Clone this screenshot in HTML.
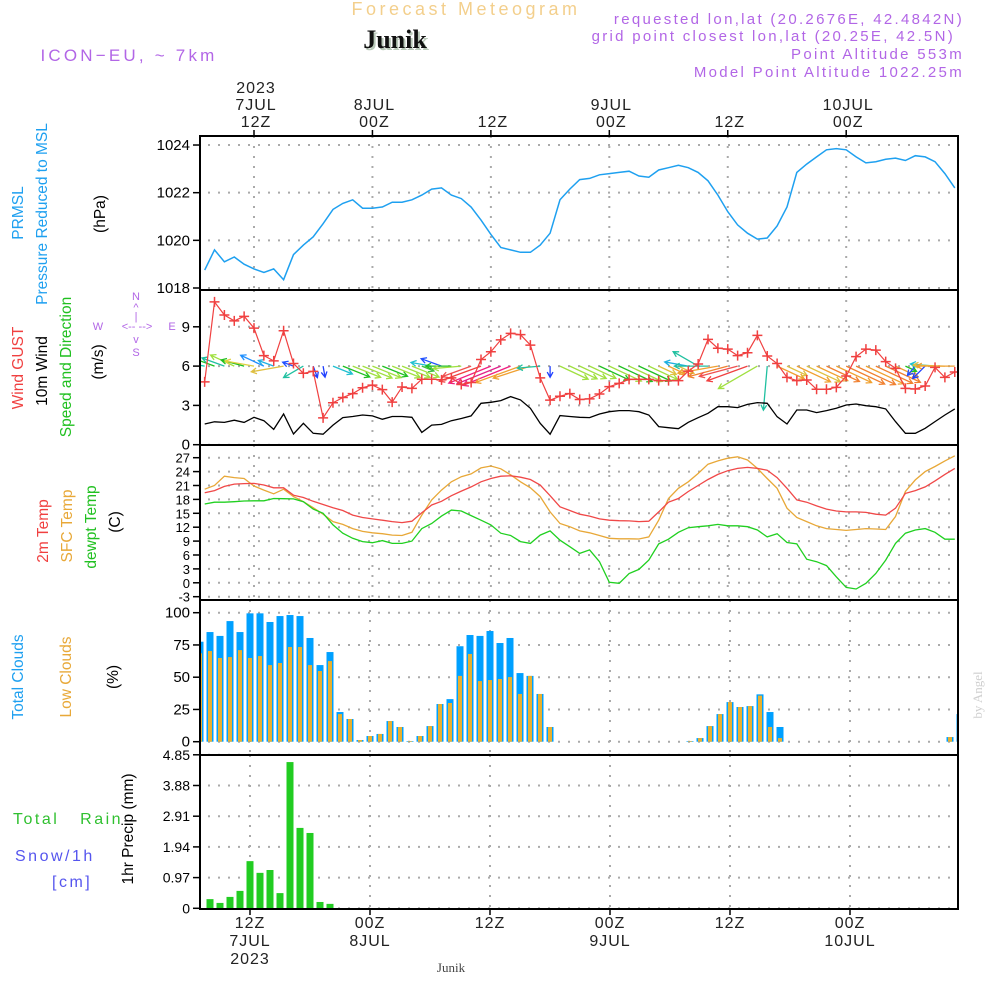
<!DOCTYPE html>
<html><head><meta charset="utf-8">
<style>
html,body{margin:0;padding:0;background:#fff;}
svg{display:block;font-family:"Liberation Sans",sans-serif;}
</style></head>
<body>
<svg id="chart" width="1000" height="1000" viewBox="0 0 1000 1000" xmlns="http://www.w3.org/2000/svg">
  <text x="466" y="15" text-anchor="middle" font-size="18" fill="#f3cf8c" letter-spacing="3.5">Forecast Meteogram</text>
  <text x="397" y="50" text-anchor="middle" font-size="26" font-weight="bold" font-family="Liberation Serif,serif" fill="#b8c8b8">Junik</text>
  <text x="395" y="48" text-anchor="middle" font-size="26" font-weight="bold" font-family="Liberation Serif,serif" fill="#111">Junik</text>
  <text x="129" y="61" text-anchor="middle" font-size="17" fill="#b266e6" letter-spacing="3.2">ICON−EU, ~ 7km</text>
  <g font-size="15" fill="#b266e6" text-anchor="end" letter-spacing="2.3">
    <text x="964" y="24">requested lon,lat (20.2676E, 42.4842N)</text>
    <text x="955" y="41">grid point closest lon,lat (20.25E, 42.5N)</text>
    <text x="964" y="59">Point Altitude 553m</text>
    <text x="964" y="77">Model Point Altitude 1022.25m</text>
  </g>
  <g font-size="15.5" text-anchor="middle">
    <text transform="translate(23,213) rotate(-90)" fill="#1ea0f0">PRMSL</text>
    <text transform="translate(47,214) rotate(-90)" fill="#1ea0f0">Pressure Reduced to MSL</text>
    <text transform="translate(105,214) rotate(-90)" fill="#000">(hPa)</text>
    <text transform="translate(23,368) rotate(-90)" fill="#f04040">Wind GUST</text>
    <text transform="translate(47,371) rotate(-90)" fill="#000">10m Wind</text>
    <text transform="translate(71,367) rotate(-90)" fill="#20c020">Speed and Direction</text>
    <text transform="translate(103,362) rotate(-90)" fill="#000">(m/s)</text>
    <text transform="translate(48,531) rotate(-90)" fill="#f04040">2m Temp</text>
    <text transform="translate(72,526) rotate(-90)" fill="#e8a838">SFC Temp</text>
    <text transform="translate(96,527) rotate(-90)" fill="#20c020">dewpt Temp</text>
    <text transform="translate(120,522) rotate(-90)" fill="#000">(C)</text>
    <text transform="translate(23,677) rotate(-90)" fill="#1ea0f0">Total Clouds</text>
    <text transform="translate(71,677) rotate(-90)" fill="#e8a838">Low Clouds</text>
    <text transform="translate(118,677) rotate(-90)" fill="#000">(%)</text>
    <text transform="translate(133,829) rotate(-90)" fill="#000">1hr Precip (mm)</text>
  </g>
  <text x="13" y="824" font-size="16" fill="#30c030" letter-spacing="2.5" xml:space="preserve">Total   Rain</text>
  <text x="15" y="861" font-size="16" fill="#5555ee" letter-spacing="2.5">Snow/1h</text>
  <text x="52" y="887" font-size="16" fill="#5555ee" letter-spacing="2.5">[cm]</text>
  <g font-size="11" fill="#b266e6" text-anchor="middle">
    <text x="136" y="300">N</text><text x="136" y="311">^</text><text x="136" y="320">|</text>
    <text x="98" y="330">W</text><text x="137" y="330">&lt;-- --&gt;</text><text x="172" y="330">E</text>
    <text x="136" y="343">v</text><text x="136" y="356">S</text>
  </g>
  <text transform="translate(982,695) rotate(-90)" font-size="13" fill="#d0d0d0" font-family="Liberation Serif,serif" text-anchor="middle">by Angel</text>
  <text x="451" y="972" font-size="13" font-family="Liberation Serif,serif" fill="#444" text-anchor="middle">Junik</text>
  <g id="plot"></g>
</svg>
<script>
// ===== data (hourly, from h=-5 to h=71 relative to 12Z 7JUL) =====
const hourStart = -5;
const pressure = [1018.75,1019.6,1019.1,1019.3,1019.0,1018.8,1018.65,1018.8,1018.35,1019.4,1019.8,1020.15,1020.7,1021.3,1021.55,1021.7,1021.35,1021.35,1021.4,1021.6,1021.6,1021.7,1021.9,1022.15,1022.2,1021.9,1021.75,1021.4,1020.85,1020.25,1019.7,1019.6,1019.5,1019.5,1019.8,1020.3,1021.7,1022.15,1022.55,1022.6,1022.75,1022.8,
1022.85,1022.9,1022.7,1022.65,1022.95,1023.05,1023.15,1023.05,1022.85,1022.5,1021.9,1021.2,1020.65,1020.3,1020.05,1020.1,1020.6,1021.4,1022.85,1023.2,1023.5,1023.8,1023.85,1023.8,1023.5,1023.25,1023.3,1023.4,1023.45,1023.35,1023.55,1023.5,1023.3,1022.8,1022.2];
const gust = [4.8,10.9,9.9,9.45,9.8,8.9,6.8,6.4,8.7,6.2,5.45,5.6,2.05,3.2,3.6,3.9,4.35,4.55,4.2,3.25,4.4,4.3,5.0,5.0,4.95,5.1,4.6,4.75,6.5,7.1,8.0,8.5,8.4,7.6,5.1,3.4,3.7,3.9,3.45,
3.5,3.87,4.43,4.68,4.99,4.99,4.99,4.89,4.89,4.89,5.62,6.16,8.04,7.36,7.3,6.8,7.02,8.35,6.77,6.2,5.14,4.89,4.94,4.23,4.23,4.38,5.24,6.72,7.3,7.22,6.34,5.83,4.3,4.25,4.48,5.9,5.14,5.55];
const windSpd = [1.58,1.75,1.7,1.87,1.7,2.09,1.83,1.17,2.34,0.82,1.63,0.87,0.8,1.5,2.07,2.15,2.27,2.2,1.94,2.15,2.15,2.09,0.94,1.5,1.55,1.83,2.0,2.2,3.16,3.24,3.37,3.67,3.42,2.78,1.63,0.8,2.22,2.15,2.09,2.07,
2.34,2.52,2.6,2.6,2.52,2.27,1.38,1.3,1.22,1.71,2.06,2.4,2.9,2.9,2.83,3.08,3.21,3.16,2.14,1.58,2.65,2.65,2.45,2.6,2.78,3.03,3.11,2.98,2.9,2.73,1.76,0.87,0.87,1.25,1.76,2.27,2.73];
const windDir = [100,110,110,115,105,100,115,110,80,110,60,340,350,
292,292,292,292,292,292,292,292,292,292,
100,110,90,85,70,70,68,68,68,70,72,85,0,
295,295,295,295,295,295,295,295,295,295,295,295,295,
100,120,90,80,75,75,70,60,5,
295,295,295,295,295,295,295,295,295,295,295,295,295,295,
40,45,95,92,90];
const arrowColor = ['#10d0b0','#20c020','#20c0a0','#a0e040','#20c020','#e0d040','#2090ff','#20b0e0','#e0c040','#2050ff','#20c0a0','#2040ff','#2040ff',
'#20c0d0','#20c020','#a0e040','#a0e040','#a0e040','#20c020','#a0e040','#a0e040','#a0e040','#40c040',
'#20c0d0','#2050ff','#20c020','#a0e040','#f05050','#f04040','#f02080','#e0208a','#f02080','#f0a030','#f0a030','#20c0a0','#2040ff',
'#a0e040','#a0e040','#a0e040','#a0e040','#20c020','#a0e040','#20c020','#a0e040','#20c020','#a0e040','#e0c040','#f0a030','#e0c040',
'#20b0e0','#20c0a0','#20c0a0','#f0a030','#f08030','#f05050','#f04040','#a0e040','#20c0a0',
'#f0a030','#e0c040','#f0a030','#e0c040','#f0a030','#f08030','#f0a030','#f08030','#f08030','#f0a030','#f08030','#f08030','#f0a030','#20c020',
'#2050ff','#2040ff','#20c0d0','#e0c040','#f0a030'];
const temp2m = [19.45,19.9,20.8,21.3,21.4,21.45,21.1,20.5,20.5,18.9,18.4,17.6,16.9,16.2,15.6,14.6,14.1,13.8,13.5,13.2,13.0,13.3,15.1,16.8,17.6,18.8,19.8,20.7,21.8,22.5,23.0,23.1,22.8,22.3,21.1,18.8,16.4,15.6,14.8,
14.4,13.8,13.5,13.4,13.35,13.2,13.3,15.3,17.4,18.2,19.7,21.0,22.3,23.4,24.2,24.7,24.9,24.7,24.3,22.7,20.4,17.9,17.4,16.6,15.9,15.5,15.3,15.3,15.2,14.8,14.6,16.1,19.3,19.9,20.7,22.0,23.4,24.7];
const tempSfc = [20.2,21.0,23.0,22.7,22.5,20.9,20.0,19.2,20.2,18.6,17.5,16.2,14.8,13.2,12.6,11.7,11.1,10.8,10.6,10.3,10.2,10.9,14.6,17.9,20.0,21.8,22.9,23.5,24.8,25.2,24.6,23.3,21.8,20.5,18.6,15.3,12.8,12.1,11.2,
10.8,10.2,9.6,9.5,9.5,9.45,9.9,13.5,18.2,20.4,21.8,23.6,25.6,26.3,26.9,27.2,26.5,24.7,22.5,20.4,16.1,14.1,13.2,12.3,11.7,11.5,11.3,11.5,11.7,11.6,11.5,14.3,19.7,22.2,24.0,25.1,26.3,27.4];
const dewpt = [17.0,17.4,17.4,17.5,17.65,17.7,17.7,18.2,18.15,18.1,17.5,15.9,15.0,12.5,10.7,9.6,8.9,8.65,9.1,8.5,8.5,9.0,11.7,12.8,14.4,15.7,15.5,14.5,13.5,12.5,10.7,10.2,8.9,8.5,10.3,11.2,9.2,7.8,6.35,
7.1,4.55,0.1,-0.1,2.0,2.9,4.9,8.4,9.4,10.9,11.9,12.1,12.3,12.6,12.3,12.3,12.1,11.4,9.9,10.6,8.7,8.4,5.1,4.55,3.7,1.3,-1.0,-1.35,-0.1,2.0,4.9,8.5,10.7,11.4,11.7,10.9,9.4,9.4];
const totalClouds = [77.5,85,82,93.5,85,99.5,99.5,92.8,97.4,98.2,97.4,80.4,59.4,69.5,23,17.6,1.3,4.4,6,16,11.4,0.5,4.4,12.1,29.2,33,74,82.7,82,85.8,76.5,80.4,53.2,51,37,11.4,
0,0,0,0,0,0,0,0,0,0,0,0,0,0.5,2.8,12.1,21.4,30.7,26.9,27.6,36.7,23,11.4,0,0,0,0,0,0,0,0,0,0,0,0,0,0,0,0,3.6,21.4];
const lowClouds = [68.5,70.3,64.9,65.6,71,64.9,66.4,59.4,61,73.4,73.4,59.4,54.8,62.5,21.4,17.6,1.3,4.4,6,16,11.4,0.5,4.4,12.1,29.2,30,51,68,47,47.8,48.6,50.1,37,51,37,11.4,
0,0,0,0,0,0,0,0,0,0,0,0,0,0.5,2.8,12.1,21.4,30.7,26.9,27.6,35.7,11.4,2.8,0,0,0,0,0,0,0,0,0,0,0,0,0,0,0,0,3.6,21.4];
const precip = [0,0.29,0.17,0.36,0.55,1.49,1.12,1.21,0.48,4.62,2.54,2.38,0.2,0.14,0,0,0,0,0,0];
// ticks
const timeTicks = [0,12,24,36,48,60];
const topTickLabels = [['2023','7JUL','12Z'],['8JUL','00Z'],['12Z'],['9JUL','00Z'],['12Z'],['10JUL','00Z']];
const botTickLabels = [['12Z','7JUL','2023'],['00Z','8JUL'],['12Z'],['00Z','9JUL'],['12Z'],['00Z','10JUL']];
const pTicks = [1018,1020,1022,1024];
const wTicks = [0,3,6,9];
const tTicks = [27,24,21,18,15,12,9,6,3,0,-3];
const cTicks = [0,25,50,75,100];
const rTicks = [0,0.97,1.94,2.91,3.88,4.85];

// ===== axes =====
const L=200,R=958;
const xTop = h => 254 + 9.87*h;
const xBot = h => 250 + 10*h;
const yP = v => 288 - (v-1018)*23.83;
const yW = v => 444.7 - v*13.1;
const yT = v => 457.7 + (27-v)*4.633;
const yC = v => 741.7 - v*1.29;
const yR = v => 908.3 - v*31.65;
const panels = [[136,290],[290,445],[445,600],[600,755],[755,909]];

const NS='http://www.w3.org/2000/svg';
const plot=document.getElementById('plot');
function mk(tag,attrs,parent){const e=document.createElementNS(NS,tag);for(const k in attrs)e.setAttribute(k,attrs[k]);(parent||plot).appendChild(e);return e;}
function grp(name){const g=mk('g',{});


return g;}
function line(pts){return pts.map((p,i)=>(i?'L':'M')+p[0].toFixed(1)+' '+p[1].toFixed(1)).join('');}

const defs=mk('defs',{});
const cp=mk('clipPath',{id:'pc'},defs);mk('rect',{x:L,y:136,width:R-L,height:773},cp);

const grid=grp('grid-lines');
const gstyle={stroke:'#aaa','stroke-width':2,'stroke-dasharray':'2,8',fill:'none'};
function hgrid(ys){ys.forEach(y=>mk('path',Object.assign({d:`M${L+8} ${y}H${R}`},gstyle),grid));}
hgrid(pTicks.map(yP));hgrid(wTicks.map(yW));hgrid(tTicks.map(yT));hgrid(cTicks.map(yC));hgrid(rTicks.map(yR));
timeTicks.forEach(h=>{
  for(let p=0;p<3;p++) mk('path',Object.assign({d:`M${xTop(h)} ${panels[p][0]}V${panels[p][1]}`},gstyle),grid);
  for(let p=3;p<5;p++) mk('path',Object.assign({d:`M${xBot(h)} ${panels[p][0]}V${panels[p][1]}`},gstyle),grid);
});

const yl=grp('y-tick-labels');
function ylabels(ticks,fy,fs,name){ticks.forEach(v=>{
  const t=mk('text',{x:190,y:fy(v)+5,'text-anchor':'end','font-size':fs,fill:'#000'},yl);
  
  
  t.textContent=String(v);
  mk('path',{d:`M193 ${fy(v)}H${L}`,stroke:'#000','stroke-width':1.5},yl);
});}
ylabels(pTicks,yP,15,'pressure-tick');ylabels(wTicks,yW,15,'wind-tick');ylabels(tTicks,yT,13,'temp-tick');ylabels(cTicks,yC,15,'cloud-tick');ylabels(rTicks,yR,14,'precip-tick');

const tl=grp('time-axis-labels');
timeTicks.forEach((h,i)=>{
  const top=topTickLabels[i];
  top.forEach((s,j)=>{const t=mk('text',{x:xTop(h)+2,y:127-(top.length-1-j)*17,'text-anchor':'middle','font-size':16,fill:'#222','letter-spacing':1},tl);
    
    
    t.textContent=s;});
  mk('path',{d:`M${xTop(h)} 130V136`,stroke:'#000','stroke-width':1.5},tl);
  botTickLabels[i].forEach((s,j)=>{const t=mk('text',{x:xBot(h),y:928+j*18,'text-anchor':'middle','font-size':16,fill:'#222','letter-spacing':1},tl);
    
    
    t.textContent=s;});
  mk('path',{d:`M${xBot(h)} 909V915`,stroke:'#000','stroke-width':1.5},tl);
});

const data=grp('series');data.setAttribute('clip-path','url(#pc)');

const pl=mk('path',{d:line(pressure.map((v,i)=>[xTop(hourStart+i),yP(v)])),stroke:'#1ea0f0','stroke-width':1.5,fill:'none'},data);



const wa=mk('g',{},data);


windDir.forEach((d,i)=>{
  const th=(d+180)*Math.PI/180, len=windSpd[i]*14;
  const x0=xTop(hourStart+i), y0=yW(6);
  const x1=x0+Math.sin(th)*len, y1=y0-Math.cos(th)*len;
  const a=Math.atan2(y1-y0,x1-x0);
  const h1=[x1-6*Math.cos(a-0.5),y1-6*Math.sin(a-0.5)], h2=[x1-6*Math.cos(a+0.5),y1-6*Math.sin(a+0.5)];
  const ar=mk('path',{d:`M${x0} ${y0}L${x1} ${y1}M${h1[0]} ${h1[1]}L${x1} ${y1}L${h2[0]} ${h2[1]}`,stroke:arrowColor[i],'stroke-width':1.3,fill:'none'},wa);
  
  
});
const ws=mk('path',{d:line(windSpd.map((v,i)=>[xTop(hourStart+i),yW(v)])),stroke:'#000','stroke-width':1.3,fill:'none'},data);


const gl=mk('path',{d:line(gust.map((v,i)=>[xTop(hourStart+i),yW(v)])),stroke:'#f04040','stroke-width':1.2,fill:'none'},data);


gust.forEach((v,i)=>{const x=xTop(hourStart+i),y=yW(v);
  const m=mk('path',{d:`M${x-5} ${y}H${x+5}M${x} ${y-5}V${y+5}`,stroke:'#f04040','stroke-width':1.5},data);
  
  
});

[[tempSfc,'#e8a838','sfc-temp-line'],[temp2m,'#f04848','temp-2m-line'],[dewpt,'#20d020','dewpoint-line']].forEach(([arr,c,n])=>{
  const p=mk('path',{d:line(arr.map((v,i)=>[xTop(hourStart+i),yT(v)])),stroke:c,'stroke-width':1.3,fill:'none'},data);
  
  
});

totalClouds.forEach((v,i)=>{const x=xBot(hourStart+i);
  if(v>0){const b=mk('rect',{x:x-3.5,y:yC(v),width:7,height:yC(0)-yC(v),fill:'#00a0ff'},data);
  
  }
  const lv=lowClouds[i];
  if(lv>0){const b2=mk('rect',{x:x-2,y:yC(lv),width:4,height:yC(0)-yC(lv),fill:'#e8b030'},data);
  
  }
});
precip.forEach((v,i)=>{if(v<=0)return;const x=xBot(hourStart+i);
  const b=mk('rect',{x:x-3.5,y:yR(v),width:7,height:yR(0)-yR(v),fill:'#22cc22'},data);
  
  
});

const fr=grp('panel-frames');
panels.forEach(([a,b],i)=>{
  mk('rect',{x:L,y:a,width:R-L,height:b-a,fill:'none',stroke:'#000','stroke-width':2},fr);
});
mk('path',{d:`M${L} 909H${R}`,stroke:'#000','stroke-width':2,'stroke-dasharray':'8,3'},fr);
</script>
</body></html>
